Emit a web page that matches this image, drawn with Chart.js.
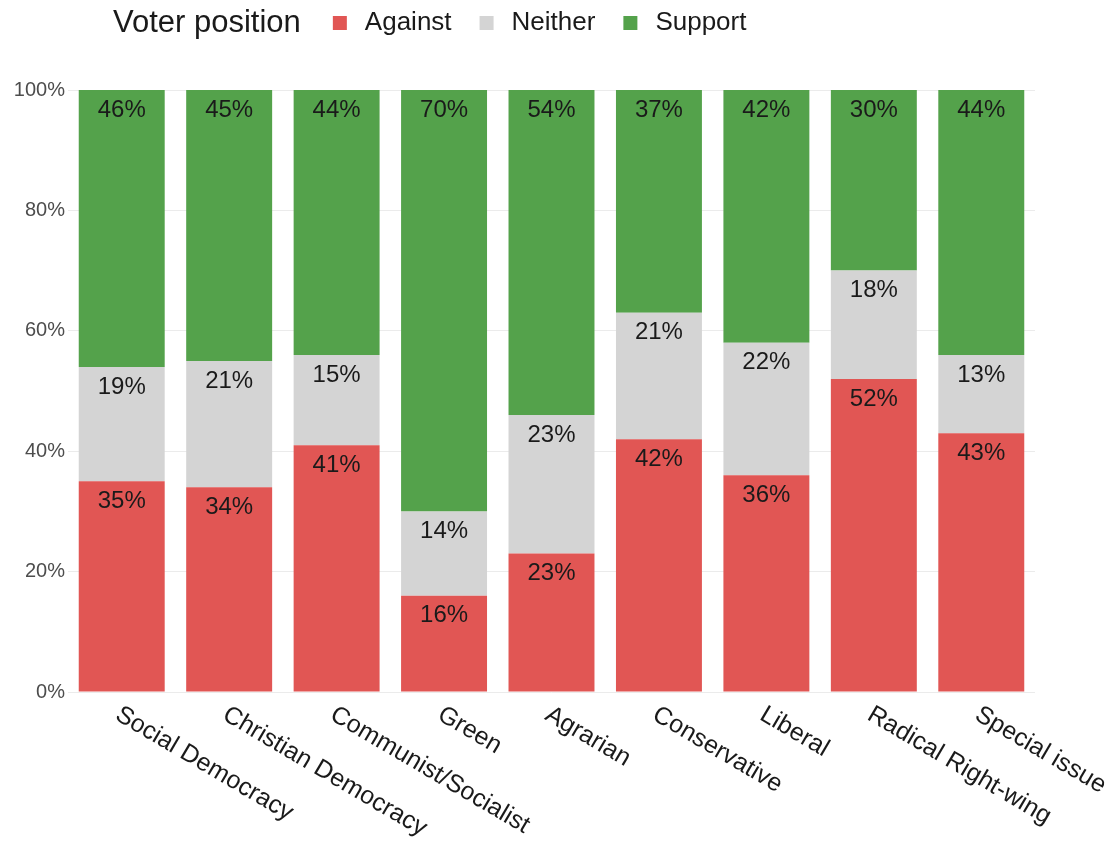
<!DOCTYPE html>
<html>
<head>
<meta charset="utf-8">
<title>Voter position by party family</title>
<script src="https://cdn.jsdelivr.net/npm/chart.js@4.4.1/dist/chart.umd.min.js"></script>
<style>
  html, body { margin: 0; padding: 0; background: #ffffff; }
  #chart { display: block; }
</style>
</head>
<body>
<canvas id="chart" width="1119" height="845"></canvas>
<script>
const categories = [
  "Social Democracy", "Christian Democracy", "Communist/Socialist", "Green",
  "Agrarian", "Conservative", "Liberal", "Radical Right-wing", "Special issue"
];
const against = [35, 34, 41, 16, 23, 42, 36, 52, 43];
const neither = [19, 21, 15, 14, 23, 21, 22, 18, 13];
const support = [46, 45, 44, 70, 54, 37, 42, 30, 44];
const yTicks = [0, 20, 40, 60, 80, 100];

const legendTitle = "Voter position";
const FONT = "'Liberation Sans', Arial, sans-serif";

// value labels near the top of each stacked segment
const segmentLabels = {
  id: "segmentLabels",
  afterDatasetsDraw(chart) {
    const ctx = chart.ctx;
    ctx.save();
    ctx.font = "24px " + FONT;
    ctx.fillStyle = "#1a1a1a";
    ctx.textAlign = "center";
    ctx.textBaseline = "middle";
    chart.data.datasets.forEach((ds, i) => {
      chart.getDatasetMeta(i).data.forEach((bar, j) => {
        ctx.fillText(ds.data[j] + "%", bar.x, bar.y + 20);
      });
    });
    ctx.restore();
  }
};

// slanted category names, starting under each bar and running down-right
const slantedTicks = {
  id: "slantedTicks",
  afterDraw(chart) {
    const ctx = chart.ctx;
    const x = chart.scales.x;
    ctx.save();
    ctx.font = "25px " + FONT;
    ctx.fillStyle = "#1a1a1a";
    ctx.textAlign = "left";
    ctx.textBaseline = "top";
    categories.forEach((name, i) => {
      ctx.save();
      ctx.translate(x.getPixelForValue(i) + 2, chart.chartArea.bottom + 10);
      ctx.rotate(30.5 * Math.PI / 180);
      ctx.fillText(name, 0, 0);
      ctx.restore();
    });
    ctx.restore();
  }
};

// inline legend: title followed by the three swatches on one row
const inlineLegend = {
  id: "inlineLegend",
  afterDraw(chart) {
    const ctx = chart.ctx;
    ctx.save();
    ctx.textBaseline = "middle";
    ctx.textAlign = "left";
    ctx.fillStyle = "#1a1a1a";
    ctx.font = "31px " + FONT;
    let cx = 113;
    const cy = 23;
    ctx.fillText(legendTitle, cx, cy);
    cx += ctx.measureText(legendTitle).width + 32;
    ctx.font = "26px " + FONT;
    chart.data.datasets.forEach((ds) => {
      ctx.fillStyle = ds.backgroundColor;
      ctx.fillRect(cx, cy - 7, 14, 14);
      cx += 32;
      ctx.fillStyle = "#1a1a1a";
      ctx.fillText(ds.label, cx, cy);
      cx += ctx.measureText(ds.label).width + 28;
    });
    ctx.restore();
  }
};

new Chart(document.getElementById("chart"), {
  type: "bar",
  data: {
    labels: categories,
    datasets: [
      { label: "Against", data: against, backgroundColor: "#e15654" },
      { label: "Neither", data: neither, backgroundColor: "#d4d4d4" },
      { label: "Support", data: support, backgroundColor: "#54a24b" }
    ]
  },
  options: {
    responsive: false,
    animation: false,
    layout: { padding: { top: 90, right: 84, left: 0, bottom: 0 } },
    datasets: {
      bar: { categoryPercentage: 1, barPercentage: 0.8, borderWidth: 0 }
    },
    plugins: {
      legend: { display: false },
      tooltip: { enabled: false }
    },
    scales: {
      x: {
        stacked: true,
        grid: { display: false },
        border: { display: false },
        ticks: { display: false },
        afterFit(scale) { scale.height = 153; }
      },
      y: {
        stacked: true,
        min: 0,
        max: 100,
        afterBuildTicks(scale) {
          scale.ticks = yTicks.map(v => ({ value: v }));
        },
        grid: { color: "#ebebeb", lineWidth: 1, drawTicks: false },
        border: { display: false },
        ticks: {
          padding: 3,
          color: "#4d4d4d",
          font: { family: FONT, size: 20 },
          callback: v => v + "%"
        },
        afterFit(scale) { scale.width = 68; }
      }
    }
  },
  plugins: [segmentLabels, slantedTicks, inlineLegend]
});
</script>
</body>
</html>
